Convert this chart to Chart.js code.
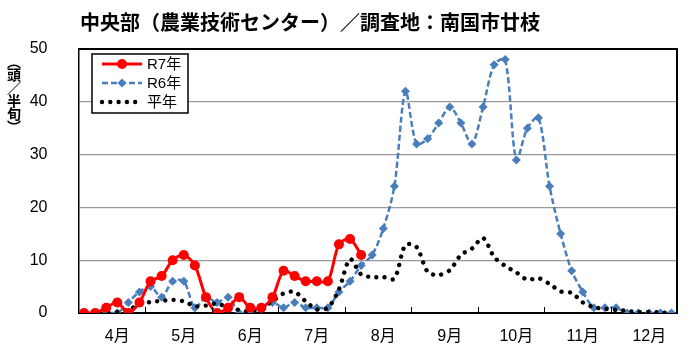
<!DOCTYPE html>
<html><head><meta charset="utf-8">
<script src="https://cdn.jsdelivr.net/npm/chart.js@4/dist/chart.umd.min.js"></script>
<style>
html,body{margin:0;padding:0;background:#fff;}
#wrap{position:relative;width:700px;height:363px;overflow:hidden;}
canvas{position:absolute;left:0;top:0;}
#title{position:absolute;left:80px;top:8px;font-weight:bold;font-size:20px;font-family:"Noto Sans CJK JP";white-space:nowrap;line-height:28px;color:#000;}
#ylab{position:absolute;left:5px;top:55px;writing-mode:vertical-rl;font-weight:bold;font-size:14px;font-family:"Noto Sans CJK JP";line-height:18px;color:#000;letter-spacing:-1px;}
</style></head>
<body><div id="wrap"><canvas id="c" width="700" height="363"></canvas>
<div id="title">中央部（農業技術センター）／調査地：南国市廿枝</div>
<div id="ylab">（頭／半旬）</div></div>
<script>
// months on the x axis (each month = 6 half-month periods)
const months = ['4月','5月','6月','7月','8月','9月','10月','11月','12月'];
const periodsPerMonth = 6;
const seriesNames = ['R7年','R6年','平年'];
// R7 (current year) up to early August
const r7 = [0,0,1,2,0,2, 6,7,10,11,9,3, 0,1,3,1,1,3, 8,7,6,6,6,13, 14,11];
// R6 (previous year)
const r6 = [0,0,0,0,2,4, 5,3,6,6,1,3, 2,3,0,0,1,2, 1,2,1,1,1,4, 6,9,11,16,24,42,
            32,33,36,39,36,32, 39,47,48,29,35,37, 24,15,8,4,1,1, 1,0,0,0,0,0];
// normal year (平年)
const normal = [0,0,0,0.2,0.7,1.5, 2.1,2.3,2.5,2.2,1.3,1.4, 1.8,1,0.6,0.3,1,2.2,
                3.7,4,2.2,0.7,1,4.5, 10.2,7.3,6.8,6.8,6.5,12.9, 12.5,7.8,7.2,8.1,11,12.2,
                14.2,10.6,8.9,7.7,6.3,6.6, 5.5,4.1,3.8,2,1.1,0.8, 0.6,0.4,0.2,0.2,0.1,0];
const yMin = 0, yMax = 50, yStep = 10;

const labels = [];
months.forEach(m => { for (let k = 1; k <= periodsPerMonth; k++) labels.push(m + k); });

const RED = '#FF0000', BLUE = '#4A7EBB', BLACK = '#000000';

const frameAndTicks = {
  id: 'frameAndTicks',
  afterDatasetsDraw(chart) {
    const {ctx, chartArea: a, scales: {x}} = chart;
    ctx.save();
    ctx.strokeStyle = '#000'; ctx.lineWidth = 1;
    for (let k = 1; k < months.length; k++) {
      const px = Math.round((x.getPixelForValue(k*periodsPerMonth - 1) + x.getPixelForValue(k*periodsPerMonth)) / 2) + 0.5;
      ctx.beginPath(); ctx.moveTo(px, a.bottom); ctx.lineTo(px, a.bottom - 6); ctx.stroke();
    }
    ctx.lineWidth = 2;
    ctx.beginPath();
    ctx.moveTo(a.left, a.top); ctx.lineTo(a.right, a.top); ctx.lineTo(a.right, a.bottom);
    ctx.stroke();
    ctx.restore();
  },
  afterDraw(chart) {
    const ctx = chart.ctx;
    const bx = 92, by = 54, bw = 96, bh = 59;
    ctx.save();
    ctx.fillStyle = '#fff'; ctx.fillRect(bx, by, bw, bh);
    ctx.strokeStyle = '#000'; ctx.lineWidth = 1.5; ctx.strokeRect(bx, by, bw, bh);
    const rows = [64, 83, 102];
    const x0 = 102, x1 = 142, xm = 122;
    ctx.strokeStyle = RED; ctx.lineWidth = 3; ctx.setLineDash([]);
    ctx.beginPath(); ctx.moveTo(x0, rows[0]); ctx.lineTo(x1, rows[0]); ctx.stroke();
    ctx.fillStyle = RED; ctx.beginPath(); ctx.arc(xm, rows[0], 5, 0, Math.PI*2); ctx.fill();
    ctx.strokeStyle = BLUE; ctx.lineWidth = 2.5; ctx.setLineDash([6,3]);
    ctx.beginPath(); ctx.moveTo(x0, rows[1]); ctx.lineTo(x1, rows[1]); ctx.stroke();
    ctx.setLineDash([]); ctx.fillStyle = BLUE;
    ctx.beginPath(); ctx.moveTo(xm, rows[1]-4.5); ctx.lineTo(xm+4.5, rows[1]); ctx.lineTo(xm, rows[1]+4.5); ctx.lineTo(xm-4.5, rows[1]); ctx.closePath(); ctx.fill();
    ctx.fillStyle = BLACK;
    for (let k = 0; k < 5; k++) { ctx.beginPath(); ctx.arc(x0 + k*8.3, rows[2], 2.2, 0, Math.PI*2); ctx.fill(); }
    ctx.fillStyle = '#000';
    ctx.font = '15px "Liberation Sans", "Noto Sans CJK JP", sans-serif';
    ctx.textBaseline = 'middle'; ctx.textAlign = 'left';
    seriesNames.forEach((n, i) => ctx.fillText(n, 147, rows[i] + 1));
    ctx.restore();
  }
};

new Chart(document.getElementById('c'), {
  type: 'line',
  data: {
    labels,
    datasets: [
      { label: seriesNames[0], data: r7, borderColor: RED, backgroundColor: RED, borderWidth: 3,
        pointStyle: 'circle', pointRadius: 5, pointBorderWidth: 0, tension: 0.3, order: 0 },
      { label: seriesNames[2], data: normal, borderColor: BLACK, borderWidth: 4.4,
        borderDash: [0.001, 8.3], borderCapStyle: 'round', pointRadius: 0, tension: 0.3, order: 1 },
      { label: seriesNames[1], data: r6, borderColor: BLUE, backgroundColor: BLUE, borderWidth: 2.5,
        borderDash: [6, 3], pointStyle: 'rectRot', pointRadius: 4.5, pointBorderWidth: 0, tension: 0.3, order: 2 }
    ]
  },
  options: {
    responsive: false, animation: false, devicePixelRatio: 1,
    layout: { padding: { top: 49, right: 23, left: 0, bottom: 0 } },
    plugins: { legend: { display: false }, tooltip: { enabled: false }, title: { display: false } },
    scales: {
      x: {
        offset: true,
        grid: { display: false },
        border: { display: true, color: '#000', width: 2 },
        ticks: {
          autoSkip: false, maxRotation: 0, minRotation: 0, padding: 6, color: '#000',
          font: { size: 16, family: '"Liberation Sans", "Noto Sans CJK JP", sans-serif' },
          callback: (v, i) => (i % periodsPerMonth === 3 ? months[Math.floor(i / periodsPerMonth)] : '')
        },
        afterFit: s => { s.height = 50; }
      },
      y: {
        min: yMin, max: yMax,
        grid: { drawTicks: false, lineWidth: 1.3, color: c => (c.tick && c.tick.value === 0 ? 'rgba(0,0,0,0)' : '#999') },
        border: { display: true, color: '#000', width: 1.5 },
        ticks: { stepSize: yStep, padding: 31, color: '#000',
          font: { size: 16, family: '"Liberation Sans", sans-serif' } },
        afterFit: s => { s.width = 78.5; }
      }
    }
  },
  plugins: [frameAndTicks]
});
</script>
</body></html>
